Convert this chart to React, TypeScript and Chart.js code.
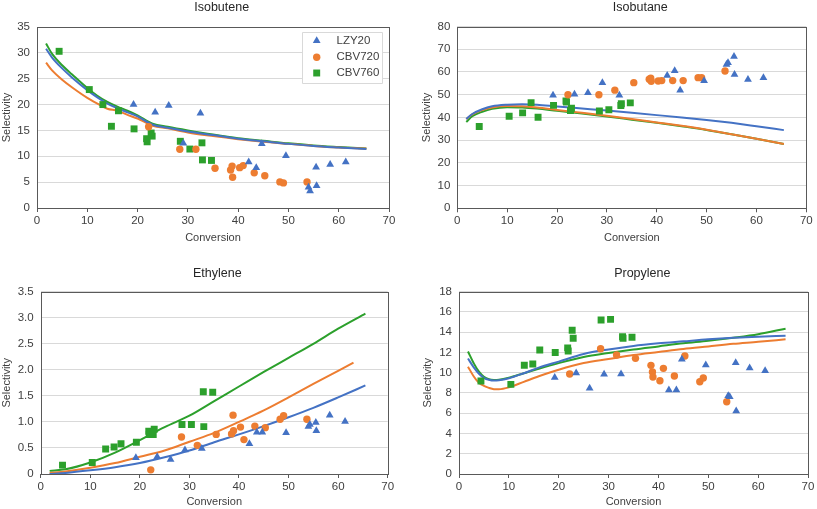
import React, { useEffect, useRef } from 'react';
import { Chart, registerables } from 'chart.js';

Chart.register(...registerables);

const FONT = "'Liberation Sans', Arial, Helvetica, sans-serif";
const BLUE = '#4472C4';
const ORANGE = '#ED7D31';
const GREEN = '#2CA02C';
const FRAME = '#595959';
const GRID = '#D9D9D9';
const TEXT = '#404040';

// ---------------- DATA ----------------
const catalysts = ['LZY20', 'CBV720', 'CBV760'];

// Conversion of each experiment (x values)
const convLZY20 = [19.2, 23.5, 26.2, 29.1, 32.5, 42.1, 43.6, 44.7, 49.5, 54.0, 54.3, 55.5, 55.6, 58.3, 61.4];
const convCBV720 = [22.2, 28.4, 31.6, 35.4, 38.5, 38.8, 38.9, 40.3, 41.0, 43.2, 45.3, 48.3, 49.0, 53.7];
const convCBV760 = [4.4, 10.4, 13.1, 14.8, 16.2, 19.3, 21.8, 21.9, 22.7, 22.9, 28.5, 30.4, 32.8, 32.9, 34.7];

// Isobutene selectivity
const isobuteneLZY20 = [20.0, 18.5, 19.8, 12.5, 18.3, 8.9, 7.8, 12.4, 10.1, 4.0, 3.3, 7.9, 4.3, 8.4, 8.9];
const isobuteneCBV720 = [15.7, 11.35, 11.35, 7.7, 7.35, 8.1, 5.95, 7.8, 8.2, 6.8, 6.25, 5.05, 4.85, 5.05];
const isobuteneCBV760 = [30.3, 22.9, 20.0, 15.8, 18.8, 15.3, 13.4, 12.8, 14.5, 13.9, 12.9, 11.4, 12.6, 9.3, 9.2];

// Isobutane selectivity
const isobutaneLZY20 = [49.8, 50.2, 50.9, 55.2, 49.7, 58.4, 60.5, 51.9, 56.1, 63.3, 64.1, 66.8, 58.9, 56.7, 57.5];
const isobutaneCBV720 = [50.0, 50.0, 52.0, 55.3, 56.8, 57.2, 55.9, 56.0, 56.2, 56.2, 56.2, 57.5, 57.5, 60.4];
const isobutaneCBV760 = [36.0, 40.5, 42.0, 46.5, 40.1, 45.3, 47.2, 46.8, 43.0, 44.0, 42.8, 43.4, 45.2, 46.0, 46.4];

// Ethylene selectivity
const ethyleneLZY20 = [0.31, 0.33, 0.28, 0.46, 0.49, 0.58, 0.8, 0.8, 0.79, 0.91, 0.95, 0.99, 0.83, 1.13, 1.01];
const ethyleneCBV720 = [0.08, 0.71, 0.55, 0.76, 0.77, 1.13, 0.83, 0.9, 0.66, 0.92, 0.89, 1.05, 1.12, 1.05];
const ethyleneCBV760 = [0.17, 0.22, 0.48, 0.52, 0.58, 0.61, 0.82, 0.76, 0.76, 0.86, 0.95, 0.95, 1.58, 0.91, 1.57];

// Propylene selectivity
const propyleneLZY20 = [9.54, 9.97, 8.46, 9.84, 9.87, 8.29, 8.29, 11.32, 10.76, 7.73, 7.63, 10.99, 6.22, 10.46, 10.2];
const propyleneCBV720 = [9.87, 12.37, 11.75, 11.42, 10.73, 10.07, 9.58, 9.21, 10.43, 9.67, 11.65, 9.11, 9.48, 7.14];
const propyleneCBV760 = [9.18, 8.85, 10.73, 10.86, 12.24, 12.0, 12.45, 12.15, 14.2, 13.4, 15.2, 15.27, 13.55, 13.4, 13.5];

// Model curves
const isobuteneModelX = [1.8, 3, 5, 7, 10, 12, 14, 16, 18, 20, 23, 26, 30, 35, 40, 45, 50, 55, 60, 65.5];
const isobuteneModelLZY20 = [30.8, 29.1, 27.0, 25.2, 22.8, 21.4, 20.2, 19.3, 18.5, 17.7, 16.1, 15.5, 14.8, 14.1, 13.4, 12.9, 12.4, 12.0, 11.7, 11.4];
const isobuteneModelCBV720 = [28.1, 26.6, 24.8, 23.3, 21.3, 20.2, 19.2, 18.8, 18.0, 17.3, 15.9, 15.4, 14.6, 13.9, 13.3, 12.8, 12.4, 12.0, 11.7, 11.5];
const isobuteneModelCBV760 = [31.8, 29.8, 27.6, 25.8, 23.2, 21.7, 20.5, 19.6, 18.8, 17.9, 16.3, 15.7, 15.0, 14.2, 13.5, 13.0, 12.5, 12.1, 11.8, 11.5];

const isobutaneModelX = [1.8, 3, 5, 7, 10, 13, 16, 20, 25, 30, 35, 40, 45, 50, 55, 60, 65.5];
const isobutaneModelLZY20 = [39.3, 41.5, 43.6, 44.9, 45.6, 45.8, 45.6, 44.8, 43.9, 43.0, 42.0, 41.0, 40.0, 38.9, 37.6, 36.1, 34.4];
const isobutaneModelCBV720 = [39.3, 41.3, 43.2, 44.4, 45.0, 44.9, 44.4, 43.3, 42.0, 40.7, 39.3, 37.8, 36.3, 34.6, 32.6, 30.6, 28.3];
const isobutaneModelCBV760 = [38.0, 40.5, 42.5, 43.8, 44.5, 44.4, 43.9, 42.9, 41.7, 40.4, 39.0, 37.6, 36.1, 34.5, 32.6, 30.6, 28.3];

const ethyleneModelX = [1.8, 5, 10, 15, 20, 25, 30, 35, 40, 45, 50, 55, 60, 65.5];
const ethyleneModelLZY20 = [0.0, 0.02, 0.07, 0.13, 0.21, 0.32, 0.45, 0.61, 0.76, 0.92, 1.09, 1.27, 1.47, 1.7];
const ethyleneModelCBV760 = [0.06, 0.09, 0.22, 0.41, 0.65, 0.9, 1.12, 1.4, 1.68, 1.96, 2.23, 2.5, 2.79, 3.08];
const ethyleneModelX720 = [1.8, 5, 10, 15, 20, 25, 30, 35, 40, 45, 50, 55, 60, 63.1];
const ethyleneModelCBV720 = [0.02, 0.05, 0.12, 0.21, 0.33, 0.45, 0.62, 0.79, 1.0, 1.22, 1.47, 1.73, 1.98, 2.14];

const propyleneModelX = [1.8, 3, 4, 5, 6, 7, 8, 10, 13, 16, 20, 25, 30, 35, 40, 45, 50, 55, 60, 65.5];
const propyleneModelLZY20 = [11.4, 10.5, 9.9, 9.5, 9.3, 9.22, 9.25, 9.45, 9.95, 10.5, 11.1, 11.85, 12.3, 12.65, 12.9, 13.1, 13.3, 13.45, 13.55, 13.65];
const propyleneModelCBV720 = [10.6, 9.6, 9.0, 8.7, 8.5, 8.38, 8.37, 8.55, 9.1, 9.65, 10.3, 10.95, 11.35, 11.75, 12.05, 12.35, 12.6, 12.85, 13.05, 13.3];
const propyleneModelCBV760 = [12.1, 10.9, 10.1, 9.6, 9.35, 9.28, 9.3, 9.5, 9.95, 10.4, 10.95, 11.55, 11.95, 12.3, 12.6, 12.9, 13.15, 13.45, 13.8, 14.35];

// ---------------- helpers ----------------
const pts = (xs: number[], ys: number[]) => xs.map((x, i) => ({ x, y: ys[i] }));

const COLORS = [BLUE, ORANGE, GREEN];
const STYLES = ['triangle', 'circle', 'rect'];
const RADII = [4.5, 3.7, 4.9];

function buildDatasets(
  obs: number[][],
  modelX: number[][],
  modelY: number[][]
) {
  const convs = [convLZY20, convCBV720, convCBV760];
  const scatter = obs.map((ys, i) => ({
    label: catalysts[i],
    data: pts(convs[i], ys),
    showLine: false,
    pointStyle: STYLES[i],
    pointRadius: RADII[i],
    pointBorderWidth: 0,
    backgroundColor: COLORS[i],
    borderColor: COLORS[i],
  }));
  const lines = modelY.map((ys, i) => ({
    label: catalysts[i] + ' model',
    data: pts(modelX[i], ys),
    showLine: true,
    pointRadius: 0,
    borderWidth: 2,
    borderColor: COLORS[i],
    backgroundColor: COLORS[i],
    cubicInterpolationMode: 'monotone',
  }));
  return [...scatter, ...lines];
}

type PanelDef = {
  title: string;
  x: number; y: number; w: number; h: number;
  left: number; right: number; top: number; bottom: number;
  titleX: number; titleY: number;
  ymax: number; ystep: number;
  yTitlePad: number; xTitlePad: number;
  legend: boolean;
  datasets: any[];
};

const panels: PanelDef[] = [
  {
    title: 'Isobutene', x: 0, y: 0, w: 408, h: 255,
    left: 37, right: 389, top: 27, bottom: 208,
    titleX: 221.7, titleY: 7.8, ymax: 35, ystep: 5, yTitlePad: 0.7, xTitlePad: 10, legend: true,
    datasets: buildDatasets(
      [isobuteneLZY20, isobuteneCBV720, isobuteneCBV760],
      [isobuteneModelX, isobuteneModelX, isobuteneModelX],
      [isobuteneModelLZY20, isobuteneModelCBV720, isobuteneModelCBV760]
    ),
  },
  {
    title: 'Isobutane', x: 408, y: 0, w: 409, h: 255,
    left: 49.3, right: 398.3, top: 26.5, bottom: 208.3,
    titleX: 232.3, titleY: 7.8, ymax: 80, ystep: 10, yTitlePad: 12.4, xTitlePad: 10, legend: false,
    datasets: buildDatasets(
      [isobutaneLZY20, isobutaneCBV720, isobutaneCBV760],
      [isobutaneModelX, isobutaneModelX, isobutaneModelX],
      [isobutaneModelLZY20, isobutaneModelCBV720, isobutaneModelCBV760]
    ),
  },
  {
    title: 'Ethylene', x: 0, y: 255, w: 408, h: 254,
    left: 40.7, right: 387.7, top: 36.7, bottom: 219,
    titleX: 217.3, titleY: 18.5, ymax: 3.5, ystep: 0.5, yTitlePad: 0, xTitlePad: 0, legend: false,
    datasets: buildDatasets(
      [ethyleneLZY20, ethyleneCBV720, ethyleneCBV760],
      [ethyleneModelX, ethyleneModelX720, ethyleneModelX],
      [ethyleneModelLZY20, ethyleneModelCBV720, ethyleneModelCBV760]
    ),
  },
  {
    title: 'Propylene', x: 408, y: 255, w: 409, h: 254,
    left: 51, right: 400, top: 36.7, bottom: 219,
    titleX: 234.3, titleY: 18.5, ymax: 18, ystep: 2, yTitlePad: 13.4, xTitlePad: 0, legend: false,
    datasets: buildDatasets(
      [propyleneLZY20, propyleneCBV720, propyleneCBV760],
      [propyleneModelX, propyleneModelX, propyleneModelX],
      [propyleneModelLZY20, propyleneModelCBV720, propyleneModelCBV760]
    ),
  },
];

function drawMarker(ctx: CanvasRenderingContext2D, style: string, x: number, y: number, r: number, color: string) {
  ctx.fillStyle = color;
  ctx.beginPath();
  if (style === 'triangle') {
    ctx.moveTo(x, y - r);
    ctx.lineTo(x + r * Math.sin((2 * Math.PI) / 3), y - r * Math.cos((2 * Math.PI) / 3));
    ctx.lineTo(x + r * Math.sin((4 * Math.PI) / 3), y - r * Math.cos((4 * Math.PI) / 3));
    ctx.closePath();
  } else if (style === 'circle') {
    ctx.arc(x, y, r, 0, Math.PI * 2);
  } else {
    const s = r * Math.SQRT1_2;
    ctx.rect(x - s, y - s, 2 * s, 2 * s);
  }
  ctx.fill();
}

const decorPlugin = {
  id: 'decor',
  beforeDatasetsDraw(chart: any) {
    const { ctx, chartArea } = chart;
    const l = Math.round(chartArea.left) + 0.5;
    const t = Math.round(chartArea.top) + 0.5;
    const r = Math.round(chartArea.right) + 0.5;
    const b = Math.round(chartArea.bottom) + 0.5;
    ctx.save();
    ctx.strokeStyle = FRAME;
    ctx.lineWidth = 1;
    ctx.strokeRect(l, t, r - l, b - t);
    ctx.restore();
  },
  afterDraw(chart: any, _args: any, opts: any) {
    const { ctx } = chart;
    ctx.save();
    ctx.fillStyle = '#262626';
    ctx.font = `12.5px ${FONT}`;
    ctx.textAlign = 'center';
    ctx.textBaseline = 'middle';
    ctx.fillText(opts.title, opts.titleX, opts.titleY);
    if (opts.legend) {
      const bx = 302.5, by = 32.5, bw = 80, bh = 51;
      ctx.fillStyle = '#FFFFFF';
      ctx.strokeStyle = GRID;
      ctx.lineWidth = 1;
      ctx.beginPath();
      ctx.rect(bx, by, bw, bh);
      ctx.fill();
      ctx.stroke();
      const rows = [40.7, 57.3, 73];
      ctx.font = `11.5px ${FONT}`;
      ctx.textAlign = 'left';
      ctx.textBaseline = 'middle';
      catalysts.forEach((name, i) => {
        drawMarker(ctx, STYLES[i], 316.7, rows[i], RADII[i], COLORS[i]);
        ctx.fillStyle = TEXT;
        ctx.fillText(name, 336.5, rows[i]);
      });
    }
    ctx.restore();
  },
};

function PanelChart({ p }: { p: PanelDef }) {
  const ref = useRef<HTMLCanvasElement>(null);
  useEffect(() => {
    const chart = new Chart(ref.current as HTMLCanvasElement, {
      type: 'scatter',
      data: { datasets: p.datasets },
      plugins: [decorPlugin],
      options: {
        responsive: false,
        animation: false,
        devicePixelRatio: 1,
        layout: { padding: { left: 0, top: p.top, right: p.w - p.right, bottom: 0 } },
        plugins: {
          legend: { display: false },
          tooltip: { enabled: false },
          title: { display: false },
          decor: { title: p.title, titleX: p.titleX, titleY: p.titleY, legend: p.legend },
        } as any,
        scales: {
          x: {
            type: 'linear',
            min: 0,
            max: 70,
            ticks: { stepSize: 10, color: TEXT, font: { family: FONT, size: 11.5 }, padding: 2, maxRotation: 0 },
            grid: { drawOnChartArea: false, drawTicks: true, tickLength: 4, tickColor: FRAME, lineWidth: 1 },
            border: { display: false },
            title: {
              display: true,
              text: 'Conversion',
              color: TEXT,
              font: { family: FONT, size: 11 },
              padding: { top: 0, bottom: p.xTitlePad },
            },
            afterFit: (s: any) => { s.height = p.h - p.bottom; },
          },
          y: {
            type: 'linear',
            min: 0,
            max: p.ymax,
            ticks: { stepSize: p.ystep, color: TEXT, font: { family: FONT, size: 11.5 }, padding: 7 },
            grid: { color: GRID, lineWidth: 1, drawTicks: false },
            border: { display: false },
            title: {
              display: true,
              text: 'Selectivity',
              color: TEXT,
              font: { family: FONT, size: 11 },
              padding: { top: p.yTitlePad, bottom: 0 },
            },
            afterFit: (s: any) => { s.width = p.left; },
          },
        },
      } as any,
    });
    return () => chart.destroy();
  }, []);
  return (
    <canvas
      ref={ref}
      width={p.w}
      height={p.h}
      style={{ position: 'absolute', left: p.x, top: p.y, width: p.w, height: p.h }}
    />
  );
}

export default function App() {
  return (
    <div style={{ position: 'absolute', left: 0, top: 0, width: 817, height: 509, background: '#FFFFFF', overflow: 'hidden' }}>
      {panels.map((p) => (
        <PanelChart key={p.title} p={p} />
      ))}
    </div>
  );
}
